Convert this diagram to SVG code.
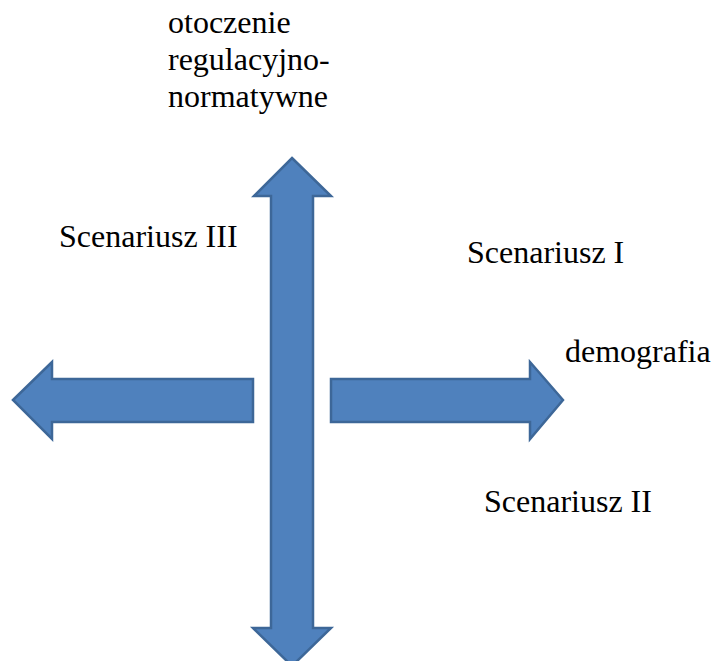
<svg xmlns="http://www.w3.org/2000/svg" width="712" height="661" viewBox="0 0 712 661">
<style>
.arr{fill:#4f81bd;stroke:#3d6798;stroke-width:2.5;stroke-linejoin:miter}
.t{font-family:"Times New Roman","Liberation Serif",Tinos,"DejaVu Serif",serif;font-size:32px;fill:#000}
</style>
<rect width="712" height="661" fill="#fff"/>
<g id="connectors">
<g id="vertical-arrow"><path class="arr" d="M292,158 L331,196 L313,196 L313,628 L331,628 L292,666 L253,628 L271,628 L271,196 L254,196 Z"/></g>
<g id="left-arrow"><path class="arr" d="M13,400 L52,362 L52,379 L253,379 L253,422 L52,422 L52,439 Z"/></g>
<g id="right-arrow"><path class="arr" d="M563,400 L530,362 L530,379 L331,379 L331,422 L530,422 L530,439 Z"/></g>
</g>
<g id="label-axis-y"><text class="t" x="168" y="33">otoczenie</text><text class="t" x="168" y="70">regulacyjno-</text><text class="t" x="168" y="107">normatywne</text></g>
<g id="label-s3"><text class="t" x="59" y="247">Scenariusz III</text></g>
<g id="label-s1"><text class="t" x="467" y="263">Scenariusz I</text></g>
<g id="label-axis-x"><text class="t" x="565" y="362">demografia</text></g>
<g id="label-s2"><text class="t" x="484" y="512">Scenariusz II</text></g>
</svg>
